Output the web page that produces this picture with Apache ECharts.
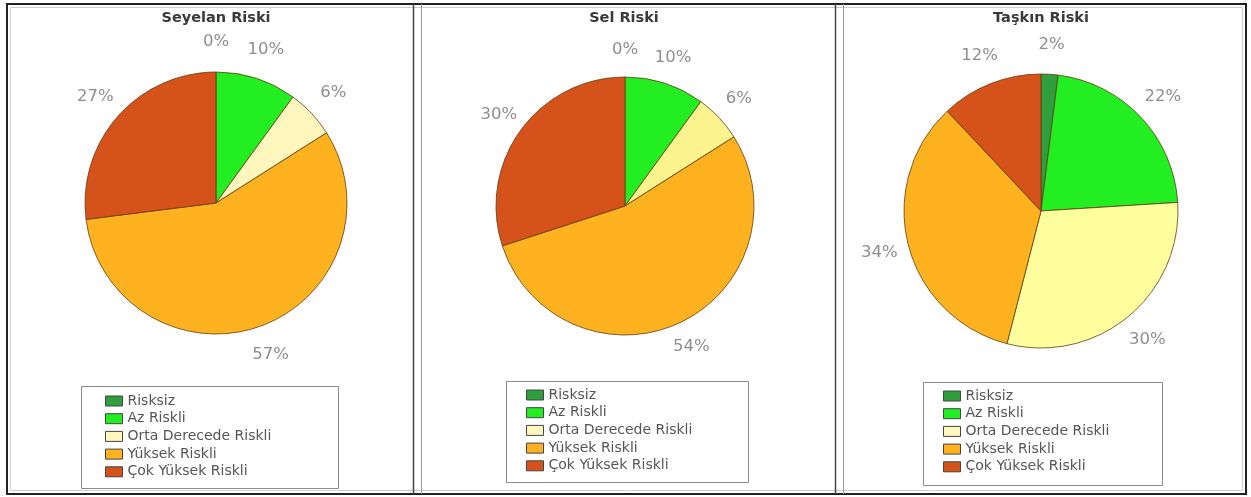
<!DOCTYPE html>
<html>
<head>
<meta charset="utf-8">
<script src="https://cdn.jsdelivr.net/npm/echarts@6/dist/echarts.min.js"></script>
<style>
html,body{margin:0;padding:0;background:#fff;}
#chart{width:1251px;height:497px;}
</style>
</head>
<body>
<div id="chart"></div>
<script>
// ---- data ----
const categories = ['Risksiz', 'Az Riskli', 'Orta Derecede Riskli', 'Yüksek Riskli', 'Çok Yüksek Riskli'];
const panelTitles = ['Seyelan Riski', 'Sel Riski', 'Taşkın Riski'];
const seyelanValues = [0, 10, 6, 57, 27];
const selValues = [0, 10, 6, 54, 30];
const taskinValues = [2, 22, 30, 34, 12];

// ---- styles / layout ----
const palettes = [
  ['#2f9e3c', '#22ee22', '#fff7bd', '#ffb21f', '#d5531b'],
  ['#2f9e3c', '#22ee22', '#fbf48e', '#ffb21f', '#d5531b'],
  ['#2f9e3c', '#22ee22', '#ffff9e', '#ffb21f', '#d5531b']
];
const panels = [
  {cx: 216, cy: 203, r: 131, lr: 27, legendLeft: 105, legendTop: 394, box: [81, 386, 257, 102], titleX: 216},
  {cx: 625, cy: 206, r: 129, lr: 24, legendLeft: 526, legendTop: 388, box: [506, 381, 242, 101], titleX: 624},
  {cx: 1041, cy: 211, r: 137, lr: 27, legendLeft: 943, legendTop: 389, box: [923, 382, 239, 103], titleX: 1041}
];
const valueSets = [seyelanValues, selValues, taskinValues];

const series = [];
valueSets.forEach((vals, i) => {
  const p = panels[i];
  series.push({
    type: 'pie',
    name: panelTitles[i],
    center: [p.cx, p.cy],
    radius: p.r,
    startAngle: 90,
    clockwise: true,
    silent: true,
    label: {show: false},
    labelLine: {show: false},
    itemStyle: {borderColor: '#5e3c12', borderWidth: 0.8},
    emphasis: {disabled: true},
    data: categories.map((c, k) => ({name: c, value: vals[k], itemStyle: {color: palettes[i][k]}}))
  });
});
valueSets.forEach((vals, i) => {
  const p = panels[i];
  series.push({
    type: 'pie',
    name: panelTitles[i] + ' etiket',
    center: [p.cx, p.cy],
    radius: [p.r + p.lr - 14, p.r + p.lr + 14],
    startAngle: 90,
    clockwise: true,
    silent: true,
    itemStyle: {color: 'rgba(0,0,0,0)', borderWidth: 0},
    label: {
      show: true, position: 'inside', formatter: '{c}%',
      fontFamily: 'DejaVu Sans', fontSize: 16.5, color: '#8e8e8e'
    },
    labelLine: {show: false},
    emphasis: {disabled: true},
    data: categories.map((c, k) => ({name: c, value: vals[k]}))
  });
});

const legends = panels.map(p => ({
  data: categories,
  orient: 'vertical',
  left: p.legendLeft,
  top: p.legendTop,
  padding: 0,
  itemWidth: 17,
  itemHeight: 10,
  itemGap: 3.7,
  icon: 'rect',
  selectedMode: false,
  itemStyle: {borderColor: '#444', borderWidth: 1},
  textStyle: {fontFamily: 'DejaVu Sans', fontSize: 14, lineHeight: 14, color: '#555'}
}));

const graphic = [
  {type: 'rect', shape: {x: 7, y: 4, width: 1239, height: 490}, style: {fill: 'none', stroke: '#222', lineWidth: 2}, silent: true},
  {type: 'rect', shape: {x: 10.5, y: 7.5, width: 1232, height: 483}, style: {fill: 'none', stroke: '#cfcfcf', lineWidth: 1}, silent: true},
  {type: 'line', shape: {x1: 413.5, y1: 4, x2: 413.5, y2: 494}, style: {stroke: '#444', lineWidth: 1.5}, silent: true},
  {type: 'line', shape: {x1: 421.5, y1: 4, x2: 421.5, y2: 494}, style: {stroke: '#9a9a9a', lineWidth: 1}, silent: true},
  {type: 'line', shape: {x1: 835.5, y1: 4, x2: 835.5, y2: 494}, style: {stroke: '#444', lineWidth: 1.5}, silent: true},
  {type: 'line', shape: {x1: 843.5, y1: 4, x2: 843.5, y2: 494}, style: {stroke: '#9a9a9a', lineWidth: 1}, silent: true}
];
panels.forEach((p, i) => {
  graphic.push({type: 'rect', shape: {x: p.box[0] + 0.5, y: p.box[1] + 0.5, width: p.box[2], height: p.box[3]},
    style: {fill: 'none', stroke: '#8a8a8a', lineWidth: 1}, silent: true, z: -1});
  graphic.push({type: 'text', x: p.titleX, y: 18,
    style: {text: panelTitles[i], fontFamily: 'DejaVu Sans', fontSize: 14.5, fontWeight: 'bold', fill: '#3a3a3a',
      textAlign: 'center', textVerticalAlign: 'middle'}, silent: true});
});

const chart = echarts.init(document.getElementById('chart'), null, {renderer: 'canvas'});
chart.setOption({
  backgroundColor: '#fff',
  animation: false,
  legend: legends,
  series: series,
  graphic: graphic
});
</script>
</body>
</html>
